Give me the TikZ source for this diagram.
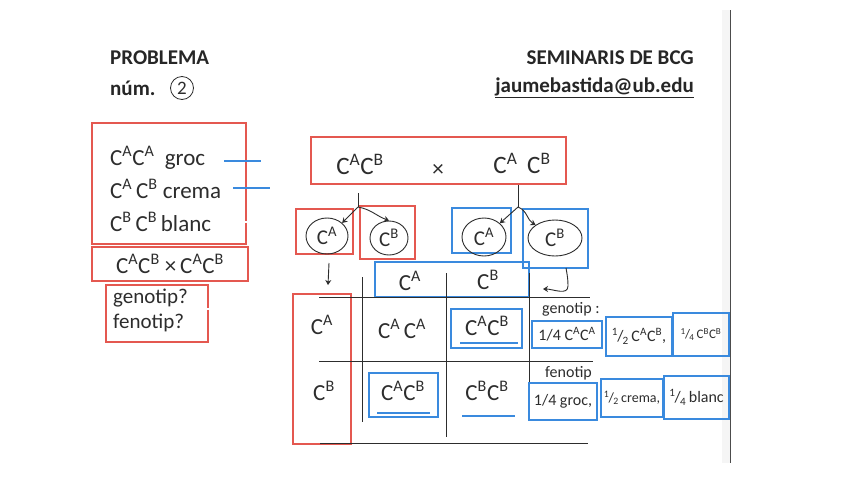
\documentclass[tikz,border=0pt]{standalone}
\usepackage{fontspec}
\setmainfont{Carlito}
\usetikzlibrary{arrows.meta,shapes.geometric}
\definecolor{rbox}{RGB}{228,88,80}
\definecolor{bbox}{RGB}{58,138,222}
\definecolor{ink}{RGB}{45,45,45}
\newcommand{\Ca}{C\textsuperscript{A}}
\newcommand{\Cb}{C\textsuperscript{B}}
\newcommand{\fr}[2]{\textsuperscript{#1}\kern-0.05em/\kern-0.05em\textsubscript{#2}}
\tikzset{
  redbox/.style={draw=rbox,line width=1.4pt,inner sep=0pt},
  bluebox/.style={draw=bbox,line width=1.4pt,inner sep=0pt},
  hand/.style={text=ink,font=\fontsize{23}{23}\selectfont,inner sep=0pt},
  small/.style={text=ink,font=\fontsize{16}{16}\selectfont,inner sep=0pt},
  tiny/.style={text=ink,font=\fontsize{13}{13}\selectfont,inner sep=0pt},
  head/.style={text=black!85,font=\fontsize{21}{21}\selectfont\bfseries,inner sep=0pt},
  blueline/.style={draw=bbox,line width=2pt},
  hollowline/.style={draw=bbox,line width=0.7pt,double=white,double distance=1.2pt},
  gridline/.style={draw=ink,line width=1pt},
  arr/.style={draw=ink,line width=0.9pt,-{Stealth[length=5pt,width=6pt]}},
  gam/.style={draw=ink,line width=0.9pt,ellipse,inner sep=0pt,text=ink,font=\fontsize{21}{21}\selectfont}
}
\begin{document}
\begin{tikzpicture}[x=1pt,y=-1pt]
\useasboundingbox[fill=white] (0,0) rectangle (848,477);
% page edge
\fill[black!4] (722,10) rectangle (730,463);
\draw[black!70,line width=1pt] (730,10) -- (730,463);

% header
\node[head,anchor=west] (prob) at (110,58) {PROBLEMA};
\node[head,anchor=west] (num) at (110,88) {núm.};
\node[draw=ink,circle,line width=0.8pt,minimum size=23pt,inner sep=0pt,font=\fontsize{19}{19}\selectfont,text=ink] (two) at (182,88) {2};
\node[head,anchor=east] (sem) at (694,58) {SEMINARIS DE BCG};
\node[head,anchor=east] (mail) at (694,88) {\underline{jaumebastida@ub.edu}};

% left boxes
\node[redbox,minimum width=154pt,minimum height=121pt] (lb1) at (169,183.5) {};
\node[hand,anchor=west] (t1) at (110,158) {\Ca\Ca\ \ groc};
\node[hand,anchor=west] (t2) at (110,189) {\Ca\,\Cb\ crema};
\node[hand,anchor=west] (t3) at (110,222) {\Cb\,\Cb\,blanc};
\draw[blueline] (224,161) -- (261,161);
\draw[blueline] (233,188) -- (270,188);
\draw[hollowline] (238,222) -- (273,222);

\node[redbox,minimum width=156pt,minimum height=34pt,hand] (lb2) at (170,264) {\Ca\Cb{} ×\,\Ca\Cb};
\node[redbox,minimum width=102pt,minimum height=57pt] (lb3) at (157,313.5) {};
\node[hand,anchor=west,font=\fontsize{21}{21}\selectfont] (q1) at (113,298) {genotip?};
\node[hand,anchor=west,font=\fontsize{21}{21}\selectfont] (q2) at (113,323) {fenotip?};
\draw[hollowline] (203,309) -- (258,309);

% cross
\node[redbox,minimum width=255pt,minimum height=47pt] (cross) at (438.5,160.5) {};
\node[hand,font=\fontsize{25}{25}\selectfont] (p1) at (360,164) {\Ca\Cb};
\node[hand] (px) at (438,170) {×};
\node[hand,font=\fontsize{25}{25}\selectfont] (p2) at (522,163) {\Ca\ \,\Cb};

% gametes
\node[redbox,minimum width=57pt,minimum height=45pt] (gb1) at (324.5,231.5) {};
\node[redbox,minimum width=55pt,minimum height=53pt] (gb2) at (387.5,232.5) {};
\node[bluebox,minimum width=59pt,minimum height=45pt] (gb3) at (481.5,230.5) {};
\node[bluebox,minimum width=65pt,minimum height=59pt] (gb4) at (555.5,238.5) {};
\node[gam,minimum width=42pt,minimum height=36pt] (e1) at (327,236) {\Ca};
\node[gam,minimum width=38pt,minimum height=34pt] (e2) at (389,238) {\Cb};
\node[gam,minimum width=44pt,minimum height=38pt] (e3) at (484,237) {\Ca};
\node[gam,minimum width=54pt,minimum height=36pt] (e4) at (555,238) {\Cb};

\coordinate (s1) at (358,193);
\coordinate (j1) at (358,207);
\coordinate (s2) at (518,185);
\coordinate (j2) at (518,207);
\draw[gridline] (s1) -- (j1);
\draw[arr] (j1) -- (e1.north east);
\draw[arr] (j1) to[out=-10,in=160] (e2.north);
\draw[gridline] (s2) -- (j2);
\draw[arr] (j2) -- (e3.north east);
\draw[arr] (j2) to[out=-20,in=150] (e4.north west);

% Punnett square
\node[bluebox,minimum width=154pt,minimum height=35pt] (hb) at (452,279.5) {};
\node[hand] (hA) at (410,281) {\Ca};
\node[hand] (hB) at (488,280) {\Cb};
\node[redbox,minimum width=58pt,minimum height=150pt] (vb) at (322,369) {};
\node[hand] (vA) at (322,325) {\Ca};
\node[hand] (vB) at (324,391) {\Cb};

\coordinate (h1a) at (319,297); \coordinate (h1b) at (590,297);
\coordinate (h2a) at (319,361); \coordinate (h2b) at (593,361);
\coordinate (h3a) at (320,443); \coordinate (h3b) at (588,443);
\coordinate (v1a) at (362,277); \coordinate (v1b) at (362,422);
\coordinate (v2a) at (446,273); \coordinate (v2b) at (446,437);
\coordinate (v3a) at (529,273); \coordinate (v3b) at (529,417);
\draw[gridline] (h1a) -- (h1b);
\draw[gridline] (h2a) -- (h2b);
\draw[gridline] (h3a) -- (h3b);
\draw[gridline] (v1a) -- (v1b);
\draw[gridline] (v2a) -- (v2b);
\draw[gridline] (v3a) -- (v3b);

\coordinate (da) at (329,263);
\coordinate (db) at (328,285);
\draw[arr] (da) -- (db);
\coordinate (ra) at (566,268);
\coordinate (rb) at (568,286);
\coordinate (rc) at (543,289);
\draw[arr] (ra) to[out=-80,in=90] (rb) to[out=-90,in=0] (rc);

% cells
\node[hand] (c11) at (402,329) {\Ca\,\Ca};
\draw[hollowline] (380,349) -- (432,349);
\node[bluebox,minimum width=71pt,minimum height=39pt] (c12b) at (486.5,328.5) {};
\node[hand] (c12) at (487,326) {\Ca\Cb};
\draw[blueline] (460,343) -- (518,343);
\node[bluebox,minimum width=69pt,minimum height=44pt] (c21b) at (403.5,395) {};
\node[hand] (c21) at (403,391) {\Ca\Cb};
\draw[blueline] (377,413) -- (430,413);
\node[hand] (c22) at (487,391) {\Cb\Cb};
\draw[blueline] (462,416) -- (515,416);

% results
\node[small,anchor=west] (gl) at (542,309) {genotip :};
\node[bluebox,minimum width=70pt,minimum height=27pt,small] (r1) at (567,334.5) {1/4 \Ca\Ca};
\node[bluebox,minimum width=66pt,minimum height=39pt,small] (r2) at (639,336.5) {\fr{1}{2}\,\Ca\Cb,};
\node[bluebox,minimum width=56pt,minimum height=43pt,tiny] (r3) at (701,334.5) {\fr{1}{4}\,\Cb\Cb};
\node[small,anchor=west] (fl) at (545,373) {fenotip};
\node[bluebox,minimum width=68pt,minimum height=37pt,small] (f1) at (563,401.5) {1/4 groc,};
\node[bluebox,minimum width=62pt,minimum height=38pt,text=ink,font=\fontsize{14}{14}\selectfont,inner sep=0pt] (f2) at (632,398) {\fr{1}{2}\,crema,};
\node[bluebox,minimum width=65pt,minimum height=43pt,small] (f3) at (696.5,397.5) {\fr{1}{4}\,blanc};
\end{tikzpicture}
\end{document}
